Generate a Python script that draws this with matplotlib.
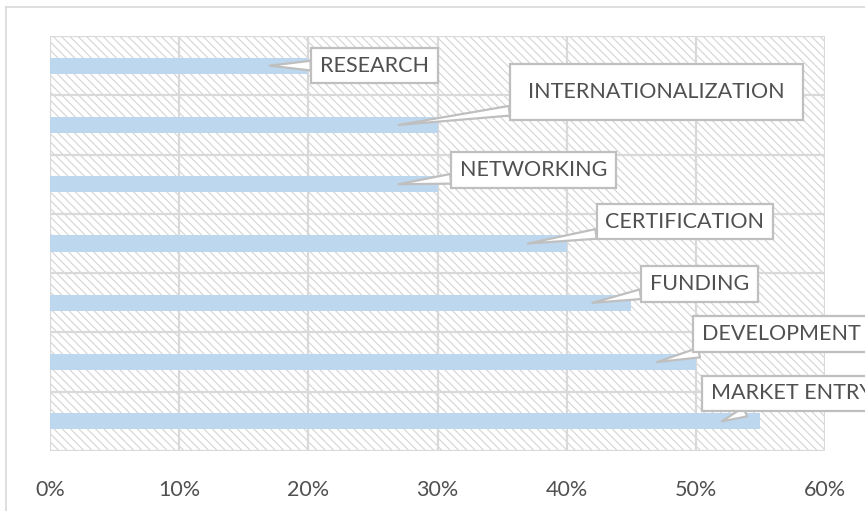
import matplotlib
matplotlib.use("Agg")
import matplotlib.pyplot as plt
from matplotlib.lines import Line2D
from matplotlib.patches import Rectangle
from matplotlib.path import Path
from matplotlib.ticker import PercentFormatter

categories = ["RESEARCH", "INTERNATIONALIZATION", "NETWORKING", "CERTIFICATION",
              "FUNDING", "DEVELOPMENT", "MARKET ENTRY"]
shares = [0.20, 0.30, 0.30, 0.40, 0.45, 0.50, 0.55]
tick_values = [0.0, 0.1, 0.2, 0.3, 0.4, 0.5, 0.6]

# callout placement: offset (px) from pointer tip to box centre, box padding
label_offsets = [(105, 0), (258, 33), (135, 14), (157, 22), (107, 19), (124, 28), (70, 28)]
label_pads = [(0.4, 0.36), (0.85, 0.85), (0.4, 0.36), (0.4, 0.36),
              (0.4, 0.36), (0.4, 0.36), (0.4, 0.36)]

BAR = "#BDD7EE"
GRID = "#D9D9D9"
TEXT = "#505050"
FONT = "Lato"
FS = 15.5

plt.rcParams["font.family"] = [FONT, "DejaVu Sans"]
plt.rcParams["hatch.linewidth"] = 0.8


def padded_box(padx, pady):
    def box(x0, y0, width, height, mutation_size):
        px, py = padx * mutation_size, pady * mutation_size
        x0, y0 = x0 - px, y0 - py
        x1, y1 = x0 + width + 2 * px, y0 + height + 2 * py
        return Path([(x0, y0), (x1, y0), (x1, y1), (x0, y1), (x0, y0)], closed=True)
    return box


W, H = 865, 511
fig = plt.figure(figsize=(W / 100, H / 100), dpi=100)
ax = fig.add_axes([50 / W, (H - 451) / H, 775 / W, 415 / H])

# hatched plot area
ax.add_patch(Rectangle((0, 0), 1, 1, transform=ax.transAxes, facecolor="white",
                       edgecolor="#D4D4D4", hatch="\\\\\\\\", linewidth=0, zorder=0))

n = len(categories)
ypos = list(range(n))
ax.barh(ypos, shares, height=0.27, color=BAR, zorder=3)

ax.set_xlim(0, 0.6)
ax.set_ylim(n - 0.5, -0.5)
ax.set_xticks(tick_values)
ax.xaxis.set_major_formatter(PercentFormatter(1.0, decimals=0))
ax.set_yticks([])
ax.tick_params(axis="x", length=0, pad=21, labelsize=FS, labelcolor=TEXT)

for x in tick_values:
    ax.axvline(x, color=GRID, lw=1.6, zorder=1)
for k in range(n + 1):
    ax.axhline(k - 0.5, color=GRID, lw=1.6, zorder=1)
for s in ax.spines.values():
    s.set_visible(False)

for i, (label, val) in enumerate(zip(categories, shares)):
    dx, dy = label_offsets[i]
    px, py = label_pads[i]
    ax.annotate(label, xy=(val - 0.03, i), xycoords="data",
                xytext=(dx, dy), textcoords="offset pixels",
                ha="center", va="center", fontsize=FS, color=TEXT,
                annotation_clip=False, zorder=6,
                bbox=dict(boxstyle=padded_box(px, py), fc="white", ec="#BFBFBF", lw=1.6),
                arrowprops=dict(arrowstyle="wedge,tail_width=0.45,shrink_factor=0.5",
                                fc="white", ec="#BFBFBF", lw=1.6,
                                shrinkA=0, shrinkB=0))

# chart frame (left and top edges visible in the crop)
fig.add_artist(Line2D([6 / W, 6 / W], [0, (H - 7) / H], color=GRID, lw=1.2))
fig.add_artist(Line2D([6 / W, 1], [(H - 7) / H, (H - 7) / H], color=GRID, lw=1.2))

fig.savefig("out.png", dpi=100)
